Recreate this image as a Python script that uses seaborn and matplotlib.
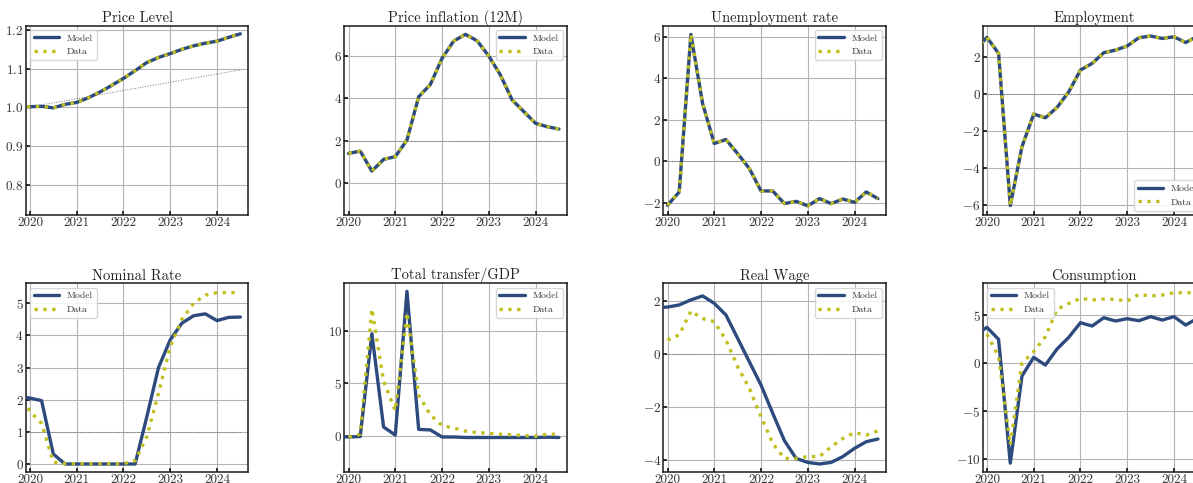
import numpy as np
import matplotlib
matplotlib.use("Agg")
import matplotlib.pyplot as plt
import seaborn as sns
from matplotlib.ticker import ScalarFormatter

nan = np.nan

# ---------------- data ----------------
QUARTERS = [2019.75, 2020.0, 2020.25, 2020.5, 2020.75, 2021.0, 2021.25, 2021.5,
            2021.75, 2022.0, 2022.25, 2022.5, 2022.75, 2023.0, 2023.25, 2023.5,
            2023.75, 2024.0, 2024.25, 2024.5]
YEARS = [2020, 2021, 2022, 2023, 2024]
YEAR_LABELS = ["2020", "2021", "2022", "2023", "2024"]

TITLES = ["Price Level", "Price inflation (12M)", "Unemployment rate", "Employment",
          "Nominal Rate", "Total transfer/GDP", "Real Wage", "Consumption"]

price_model = [1.000, 1.002, 1.003, 0.999, 1.008, 1.013, 1.025, 1.040, 1.057, 1.075,
               1.095, 1.116, 1.129, 1.139, 1.150, 1.159, 1.166, 1.171, 1.181, 1.190]
price_data = list(price_model)
price_trend_x = [2019.75, 2024.5]
price_trend_y = [0.996, 1.097]

infl_model = [nan, 1.41, 1.52, 0.58, 1.13, 1.26, 2.04, 4.08, 4.66, 5.89,
              6.71, 7.02, 6.72, 6.00, 5.10, 3.93, 3.38, 2.83, 2.67, 2.56]
infl_data = list(infl_model)

unemp_model = [nan, -2.13, -1.49, 6.11, 2.78, 0.85, 1.04, 0.36, -0.36, -1.44,
               -1.44, -2.05, -1.94, -2.16, -1.81, -2.05, -1.83, -1.99, -1.49, -1.81]
unemp_data = list(unemp_model)

emp_model = [2.35, 3.05, 2.18, -6.05, -2.86, -1.10, -1.30, -0.74, 0.10, 1.28,
             1.64, 2.22, 2.36, 2.58, 3.03, 3.12, 2.99, 3.08, 2.77, 3.10]
emp_data = list(emp_model)

rate_model = [2.10, 2.05, 1.97, 0.31, 0.00, 0.00, 0.00, 0.00, 0.00, 0.00,
              0.00, 1.47, 3.00, 3.86, 4.38, 4.61, 4.67, 4.46, 4.56, 4.57]
rate_data = [2.20, 1.64, 1.26, 0.06, 0.01, 0.01, 0.01, 0.01, 0.01, 0.01,
             0.10, 0.85, 2.20, 3.65, 4.50, 5.00, 5.25, 5.33, 5.33, 5.33]

transf_model = [-0.05, -0.10, -0.06, 9.70, 0.85, 0.08, 13.74, 0.62, 0.57, -0.10,
                -0.10, -0.15, -0.15, -0.15, -0.15, -0.15, -0.15, -0.15, -0.12, -0.15]
transf_data = [nan, -0.10, 0.15, 12.07, 5.20, 2.40, 11.70, 3.90, 2.00, 0.98,
               0.75, 0.45, 0.32, 0.25, 0.16, 0.10, 0.03, -0.03, 0.16, 0.16]

wage_model = [1.74, 1.76, 1.84, 2.03, 2.18, 1.90, 1.46, 0.58, -0.30, -1.18,
              -2.24, -3.27, -3.94, -4.09, -4.15, -4.09, -3.87, -3.56, -3.31, -3.21]
wage_data = [nan, 0.52, 0.71, 1.61, 1.33, 1.21, 0.52, -0.49, -1.30, -2.37,
             -3.37, -3.94, -3.94, -3.87, -3.87, -3.50, -3.19, -2.97, -3.06, -2.90]

cons_model = [2.90, 3.72, 2.47, -10.40, -1.34, 0.60, -0.20, 1.47, 2.68, 4.20,
              3.86, 4.72, 4.38, 4.62, 4.41, 4.83, 4.48, 4.83, 3.96, 4.65]
cons_data = [nan, 3.03, 0.67, -8.50, 0.00, 1.19, 2.75, 5.60, 6.20, 6.73,
             6.56, 6.66, 6.63, 6.45, 7.15, 6.97, 7.08, 7.32, 7.32, 7.30]

MODELS = [price_model, infl_model, unemp_model, emp_model,
          rate_model, transf_model, wage_model, cons_model]
DATAS = [price_data, infl_data, unemp_data, emp_data,
         rate_data, transf_data, wage_data, cons_data]
REF_LEVELS = [None, 2, 0, 0, 1, None, 0, None]
YLIMS = [(0.7226, 1.211), (-1.49, 7.43), (-2.60, 6.53), (-6.56, 3.68),
         (-0.24, 5.62), (-3.4, 14.5), (-4.44, 2.655), (-11.29, 8.3)]
YTICKS = [[0.8, 0.9, 1.0, 1.1, 1.2], [0, 2, 4, 6], [-2, 0, 2, 4, 6], [-6, -4, -2, 0, 2],
          [0, 1, 2, 3, 4, 5], [0, 5, 10], [-4, -2, 0, 2], [-10, -5, 0, 5]]
LEGEND_LOCS = ["upper left", "upper right", "upper right", "lower right",
               "upper left", "upper right", "upper right", "upper left"]

MODEL_COLOR = "#2c4a7e"
DATA_COLOR = "#bfbf1e"

# ---------------- style ----------------
sns.set_theme(style="whitegrid")
plt.rcParams.update({
    "font.family": ["cmr10", "DejaVu Serif"],
    "mathtext.fontset": "cm",
    "axes.formatter.use_mathtext": True,
    "axes.unicode_minus": True,
    "axes.edgecolor": "#1a1a1a",
    "axes.linewidth": 1.1,
    "grid.color": "#b4b4b4",
    "grid.linewidth": 0.8,
    "xtick.bottom": True,
    "ytick.left": True,
    "xtick.direction": "in",
    "ytick.direction": "in",
    "xtick.major.size": 3,
    "ytick.major.size": 3,
    "xtick.color": "#1a1a1a",
    "ytick.color": "#1a1a1a",
    "xtick.labelcolor": "#333333",
    "ytick.labelcolor": "#333333",
})

W, H = 1193, 483
fig = plt.figure(figsize=(W / 100, H / 100), dpi=100)

col_left = [25.7, 344.3, 663.3, 982.7]
ax_w = 222.6
row_top = [25.7, 283.3]
row_bottom = [215.0, 471.7]

for i in range(8):
    r, c = divmod(i, 4)
    left = col_left[c] / W
    bottom = (H - row_bottom[r]) / H
    height = (row_bottom[r] - row_top[r]) / H
    ax = fig.add_axes([left, bottom, ax_w / W, height])

    # reference lines
    if i == 0:
        ax.plot(price_trend_x, price_trend_y, color="0.45", lw=0.7, ls=":", zorder=1.5)
    elif REF_LEVELS[i] is not None:
        ax.plot([QUARTERS[0], QUARTERS[-1]], [REF_LEVELS[i]] * 2,
                color="0.45", lw=0.7, ls=":", zorder=1.5)

    sns.lineplot(x=QUARTERS, y=MODELS[i], ax=ax, color=MODEL_COLOR, linewidth=2.4,
                 label="Model", zorder=3)
    sns.lineplot(x=QUARTERS, y=DATAS[i], ax=ax, color=DATA_COLOR, linewidth=2.4,
                 linestyle=":", label="Data", zorder=4)

    ax.set_xlim(2019.91, 2024.67)
    ax.set_ylim(*YLIMS[i])
    ax.set_xticks(YEARS, labels=YEAR_LABELS)
    ax.set_yticks(YTICKS[i])
    fmt = ScalarFormatter(useMathText=True)
    fmt.set_useOffset(False)
    ax.yaxis.set_major_formatter(fmt)
    ax.tick_params(axis="both", labelsize=9.5, pad=1.5)
    ax.set_xlabel("")
    ax.set_ylabel("")
    ax.set_title(TITLES[i], fontsize=10.5, pad=2.5, color="#222222")
    for s in ax.spines.values():
        s.set_visible(True)
        s.set_color("#1a1a1a")
    ax.grid(True, which="major", zorder=0)
    leg = ax.legend(loc=LEGEND_LOCS[i], fontsize=7, handlelength=2.6,
                    frameon=True, framealpha=0.85, edgecolor="0.82",
                    borderaxespad=0.45, labelspacing=0.5)
    for t in leg.get_texts():
        t.set_color("#333333")

fig.savefig("out.png", dpi=100)
